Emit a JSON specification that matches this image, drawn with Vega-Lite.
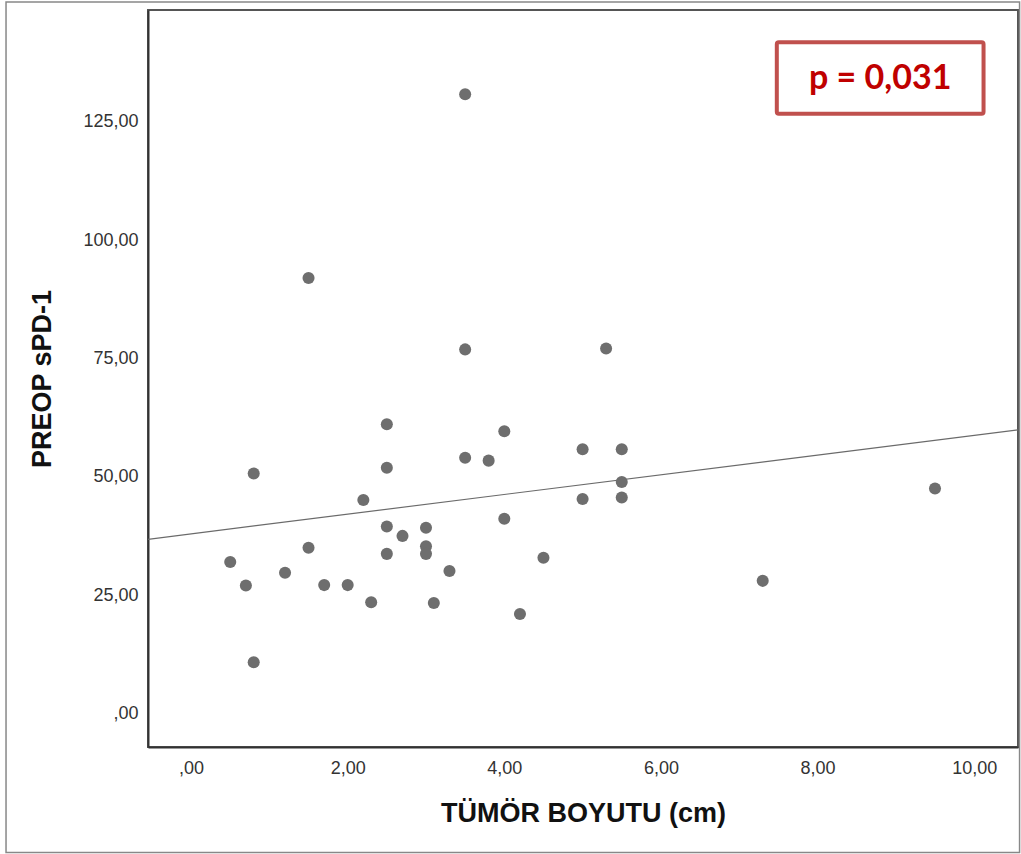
{
  "$schema": "https://vega.github.io/schema/vega-lite/v6.json",
  "width": 870,
  "height": 737,
  "autosize": {"type": "none"},
  "padding": {"left": 148, "top": 10, "right": 3, "bottom": 107},
  "background": "white",
  "config": {
    "view": {"stroke": "#555", "strokeWidth": 2},
    "axis": {
      "grid": false,
      "ticks": false,
      "domainColor": "#333",
      "domainWidth": 2,
      "labelFont": "Liberation Sans",
      "labelFontSize": 18,
      "labelColor": "#333",
      "titleFont": "Liberation Sans",
      "titleFontWeight": "bold",
      "titleColor": "#111"
    }
  },
  "datasets": {
    "points": [
      {"tumor": 0.5, "spd1": 32.0},
      {"tumor": 0.7, "spd1": 27.0},
      {"tumor": 0.8, "spd1": 50.7},
      {"tumor": 0.8, "spd1": 10.8},
      {"tumor": 1.2, "spd1": 29.7},
      {"tumor": 1.5, "spd1": 35.0},
      {"tumor": 1.5, "spd1": 92.0},
      {"tumor": 1.7, "spd1": 27.1},
      {"tumor": 2.0, "spd1": 27.1},
      {"tumor": 2.2, "spd1": 45.1},
      {"tumor": 2.3, "spd1": 23.5},
      {"tumor": 2.5, "spd1": 61.1},
      {"tumor": 2.5, "spd1": 51.9},
      {"tumor": 2.5, "spd1": 39.5},
      {"tumor": 2.5, "spd1": 33.7},
      {"tumor": 2.7, "spd1": 37.5},
      {"tumor": 3.0, "spd1": 39.2},
      {"tumor": 3.0, "spd1": 35.3},
      {"tumor": 3.0, "spd1": 33.7},
      {"tumor": 3.1, "spd1": 23.3},
      {"tumor": 3.3, "spd1": 30.1},
      {"tumor": 3.5, "spd1": 130.8},
      {"tumor": 3.5, "spd1": 76.9},
      {"tumor": 3.5, "spd1": 54.0},
      {"tumor": 3.8, "spd1": 53.4},
      {"tumor": 4.0, "spd1": 59.6},
      {"tumor": 4.0, "spd1": 41.1},
      {"tumor": 4.2, "spd1": 21.0},
      {"tumor": 4.5, "spd1": 32.9},
      {"tumor": 5.0, "spd1": 55.8},
      {"tumor": 5.0, "spd1": 45.3},
      {"tumor": 5.3, "spd1": 77.1},
      {"tumor": 5.5, "spd1": 55.8},
      {"tumor": 5.5, "spd1": 48.9},
      {"tumor": 5.5, "spd1": 45.6},
      {"tumor": 7.3, "spd1": 28.0},
      {"tumor": 9.5, "spd1": 47.5}
    ],
    "note": [{"label": "p = 0,031"}]
  },
  "layer": [
    {
      "data": {"name": "points"},
      "transform": [
        {"regression": "spd1", "on": "tumor", "extent": [-0.55, 10.56]}
      ],
      "mark": {"type": "line", "color": "#6a6a6a", "strokeWidth": 1.2, "clip": true},
      "encoding": {
        "x": {
          "field": "tumor",
          "type": "quantitative",
          "scale": {"domain": [-0.55, 10.56], "nice": false, "zero": false},
          "axis": {
            "values": [0, 2, 4, 6, 8, 10],
            "labelExpr": "datum.value == 0 ? ',00' : replace(format(datum.value, '.2f'), '.', ',')",
            "labelPadding": 12,
            "title": "TÜMÖR BOYUTU (cm)",
            "titleFontSize": 27,
            "titlePadding": 23
          }
        },
        "y": {
          "field": "spd1",
          "type": "quantitative",
          "scale": {"domain": [-7.1, 148.6], "nice": false, "zero": false},
          "axis": {
            "values": [0, 25, 50, 75, 100, 125],
            "labelExpr": "datum.value == 0 ? ',00' : replace(format(datum.value, '.2f'), '.', ',')",
            "labelPadding": 10,
            "title": "PREOP sPD-1",
            "titleFontSize": 27,
            "titlePadding": 26
          }
        }
      }
    },
    {
      "data": {"name": "points"},
      "mark": {"type": "point", "filled": true, "opacity": 1, "color": "#6e6e6e", "size": 145},
      "encoding": {
        "x": {"field": "tumor", "type": "quantitative"},
        "y": {"field": "spd1", "type": "quantitative"}
      }
    },
    {
      "data": {"name": "note"},
      "mark": {"type": "rect", "fill": "white", "stroke": "#c0504d", "strokeWidth": 4, "cornerRadius": 2},
      "encoding": {
        "x": {"datum": 7.48, "type": "quantitative"},
        "x2": {"datum": 10.12},
        "y": {"datum": 126.7, "type": "quantitative"},
        "y2": {"datum": 141.8}
      }
    },
    {
      "data": {"name": "note"},
      "mark": {"type": "text", "font": "Lato", "fontWeight": "bold", "fontSize": 34, "color": "#c00000", "align": "center", "baseline": "middle"},
      "encoding": {
        "x": {"datum": 8.8, "type": "quantitative"},
        "y": {"datum": 134.0, "type": "quantitative"},
        "text": {"field": "label", "type": "nominal"}
      }
    },
    {
      "data": {"name": "note"},
      "mark": {"type": "rect", "filled": false, "stroke": "#888", "strokeWidth": 1.5},
      "encoding": {
        "x": {"datum": -2.363, "type": "quantitative"},
        "x2": {"datum": 10.58},
        "y": {"datum": 150.29, "type": "quantitative"},
        "y2": {"datum": -29.39}
      }
    }
  ]
}
